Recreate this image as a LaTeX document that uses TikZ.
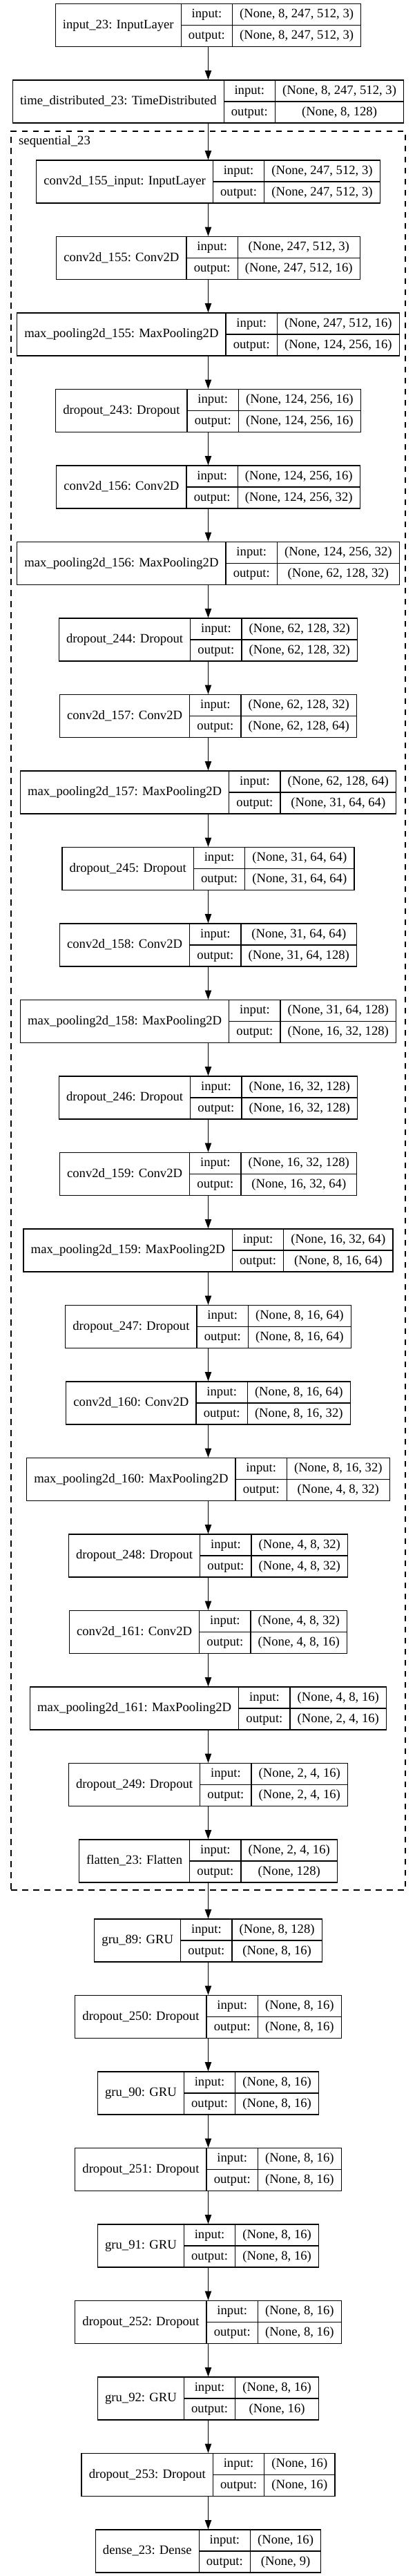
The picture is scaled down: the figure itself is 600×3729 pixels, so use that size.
\documentclass[tikz,border=0pt]{standalone}
\usepackage{fontspec}
\setmainfont{Liberation Serif}
\usetikzlibrary{arrows.meta}
\font\lyprim="Liberation Serif" at 18.67pt
\newlength\lyA \newlength\lyB \newlength\lyC \newlength\lyD
\newcommand\lyfont{\lyprim}
\newcommand\lymeas[2]{\setbox0=\hbox{\pgfinterruptpicture\lyprim #2\endpgfinterruptpicture}#1=\wd0\relax}
\tikzset{
  cell/.style={inner sep=0pt, font=\lyfont, text height=13.1pt, text depth=4.1pt},
  rec/.style={draw=black, line width=1.33pt, inner sep=0pt},
  conn/.style={draw=black, line width=1.33pt, -{Triangle[length=13.3pt,width=9.3pt]}},
  cluster/.style={draw=black, line width=1.33pt, dash pattern=on 8.5pt off 7.5pt, inner sep=0pt},
}
% #1 id, #2 centre y, #3 title, #4 input shape, #5 output shape
\newcommand\layer[5]{%
  \lymeas\lyA{#3}\addtolength\lyA{21.33pt}%
  \lymeas\lyB{output:}\addtolength\lyB{21.33pt}%
  \lymeas\lyC{#4}\lymeas\lyD{#5}%
  \ifdim\lyD>\lyC \lyC=\lyD\fi\addtolength\lyC{21.33pt}%
  \pgfmathsetmacro\lyW{\lyA+\lyB+\lyC}%
  \pgfmathsetmacro\lyL{301.5-\lyW/2}%
  \pgfmathsetmacro\lyP{\lyL+\lyA}%
  \pgfmathsetmacro\lyQ{\lyP+\lyB}%
  \pgfmathsetmacro\lyR{\lyL+\lyW}%
  \pgfmathsetmacro\lyT{#2-31}%
  \pgfmathsetmacro\lyBt{#2+31}%
  \pgfmathsetmacro\lyUp{#2-15.5}%
  \pgfmathsetmacro\lyDn{#2+15.5}%
  \pgfmathsetmacro\lyNx{(\lyL+\lyP)/2}%
  \pgfmathsetmacro\lyLx{(\lyP+\lyQ)/2}%
  \pgfmathsetmacro\lyVx{(\lyQ+\lyR)/2}%
  \node[rec, minimum width=\lyW pt, minimum height=62pt] (#1) at (301.5,#2) {};
  \draw[rec] (\lyP,\lyT) -- (\lyP,\lyBt) (\lyQ,\lyT) -- (\lyQ,\lyBt) (\lyP,#2) -- (\lyR,#2);
  \node[cell] (#1-name) at (\lyNx,#2) {#3};
  \node[cell] (#1-inl) at (\lyLx,\lyUp) {input:};
  \node[cell] (#1-outl) at (\lyLx,\lyDn) {output:};
  \node[cell] (#1-inv) at (\lyVx,\lyUp) {#4};
  \node[cell] (#1-outv) at (\lyVx,\lyDn) {#5};
}
\begin{document}
\begin{tikzpicture}[x=1pt,y=-1pt]
\fill[white] (0,0) rectangle (600,3729);
\useasboundingbox (0,0) rectangle (600,3729);
% cluster
\node[cluster, minimum width=571pt, minimum height=2546pt] (seq) at (301.5,1463) {};
\node[inner sep=0pt, font=\lyfont, anchor=base west] (seqlabel) at (27,209) {sequential\_23};
% layers
\layer{in23}{36.5}{input\_23: InputLayer}{(None, 8, 247, 512, 3)}{(None, 8, 247, 512, 3)}
\layer{td23}{147}{time\_distributed\_23: TimeDistributed}{(None, 8, 247, 512, 3)}{(None, 8, 128)}
\layer{c0}{263}{conv2d\_155\_input: InputLayer}{(None, 247, 512, 3)}{(None, 247, 512, 3)}
\layer{c1}{373.5}{conv2d\_155: Conv2D}{(None, 247, 512, 3)}{(None, 247, 512, 16)}
\layer{c2}{484}{max\_pooling2d\_155: MaxPooling2D}{(None, 247, 512, 16)}{(None, 124, 256, 16)}
\layer{c3}{594.5}{dropout\_243: Dropout}{(None, 124, 256, 16)}{(None, 124, 256, 16)}
\layer{c4}{705}{conv2d\_156: Conv2D}{(None, 124, 256, 16)}{(None, 124, 256, 32)}
\layer{c5}{815.5}{max\_pooling2d\_156: MaxPooling2D}{(None, 124, 256, 32)}{(None, 62, 128, 32)}
\layer{c6}{926}{dropout\_244: Dropout}{(None, 62, 128, 32)}{(None, 62, 128, 32)}
\layer{c7}{1036.5}{conv2d\_157: Conv2D}{(None, 62, 128, 32)}{(None, 62, 128, 64)}
\layer{c8}{1147}{max\_pooling2d\_157: MaxPooling2D}{(None, 62, 128, 64)}{(None, 31, 64, 64)}
\layer{c9}{1257.5}{dropout\_245: Dropout}{(None, 31, 64, 64)}{(None, 31, 64, 64)}
\layer{c10}{1368}{conv2d\_158: Conv2D}{(None, 31, 64, 64)}{(None, 31, 64, 128)}
\layer{c11}{1478.5}{max\_pooling2d\_158: MaxPooling2D}{(None, 31, 64, 128)}{(None, 16, 32, 128)}
\layer{c12}{1589}{dropout\_246: Dropout}{(None, 16, 32, 128)}{(None, 16, 32, 128)}
\layer{c13}{1699.5}{conv2d\_159: Conv2D}{(None, 16, 32, 128)}{(None, 16, 32, 64)}
\layer{c14}{1810}{max\_pooling2d\_159: MaxPooling2D}{(None, 16, 32, 64)}{(None, 8, 16, 64)}
\layer{c15}{1920.5}{dropout\_247: Dropout}{(None, 8, 16, 64)}{(None, 8, 16, 64)}
\layer{c16}{2031}{conv2d\_160: Conv2D}{(None, 8, 16, 64)}{(None, 8, 16, 32)}
\layer{c17}{2141.5}{max\_pooling2d\_160: MaxPooling2D}{(None, 8, 16, 32)}{(None, 4, 8, 32)}
\layer{c18}{2252}{dropout\_248: Dropout}{(None, 4, 8, 32)}{(None, 4, 8, 32)}
\layer{c19}{2362.5}{conv2d\_161: Conv2D}{(None, 4, 8, 32)}{(None, 4, 8, 16)}
\layer{c20}{2473}{max\_pooling2d\_161: MaxPooling2D}{(None, 4, 8, 16)}{(None, 2, 4, 16)}
\layer{c21}{2583.5}{dropout\_249: Dropout}{(None, 2, 4, 16)}{(None, 2, 4, 16)}
\layer{c22}{2694}{flatten\_23: Flatten}{(None, 2, 4, 16)}{(None, 128)}
\layer{o0}{2809}{gru\_89: GRU}{(None, 8, 128)}{(None, 8, 16)}
\layer{o1}{2919.5}{dropout\_250: Dropout}{(None, 8, 16)}{(None, 8, 16)}
\layer{o2}{3030}{gru\_90: GRU}{(None, 8, 16)}{(None, 8, 16)}
\layer{o3}{3140.5}{dropout\_251: Dropout}{(None, 8, 16)}{(None, 8, 16)}
\layer{o4}{3251}{gru\_91: GRU}{(None, 8, 16)}{(None, 8, 16)}
\layer{o5}{3361.5}{dropout\_252: Dropout}{(None, 8, 16)}{(None, 8, 16)}
\layer{o6}{3472}{gru\_92: GRU}{(None, 8, 16)}{(None, 16)}
\layer{o7}{3582.5}{dropout\_253: Dropout}{(None, 16)}{(None, 16)}
\layer{o8}{3693}{dense\_23: Dense}{(None, 16)}{(None, 9)}
% connectors
\draw[conn] (in23.south) -- (td23.north);
\draw[conn] (td23.south) -- (c0.north);
\foreach \a/\b in {c0/c1,c1/c2,c2/c3,c3/c4,c4/c5,c5/c6,c6/c7,c7/c8,c8/c9,c9/c10,c10/c11,c11/c12,c12/c13,c13/c14,c14/c15,c15/c16,c16/c17,c17/c18,c18/c19,c19/c20,c20/c21,c21/c22,c22/o0,o0/o1,o1/o2,o2/o3,o3/o4,o4/o5,o5/o6,o6/o7,o7/o8}
  \draw[conn] (\a.south) -- (\b.north);
\end{tikzpicture}
\end{document}
